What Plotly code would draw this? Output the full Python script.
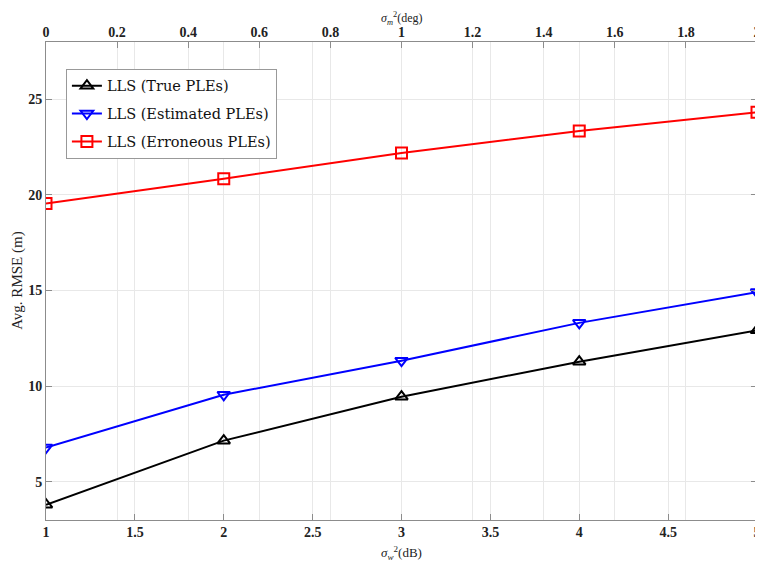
import plotly.graph_objects as go

sigma_w = [1, 2, 3, 4, 5]
true_ples = [3.8, 7.15, 9.45, 11.28, 12.92]
est_ples = [6.79, 9.55, 11.33, 13.31, 14.92]
err_ples = [19.55, 20.85, 22.19, 23.35, 24.33]

bottom_ticks = [1, 1.5, 2, 2.5, 3, 3.5, 4, 4.5, 5]
top_ticks = [0, 0.2, 0.4, 0.6, 0.8, 1, 1.2, 1.4, 1.6, 1.8, 2]
y_ticks = [5, 10, 15, 20, 25]

FONT = "Liberation Serif"
GRID = "#e8e8e8"
AX = "#8c8c8c"
TXT = "#222222"

fig = go.Figure()
series = [
    ("LLS (True PLEs)", true_ples, "#000000", "triangle-up-open"),
    ("LLS (Estimated PLEs)", est_ples, "#0000ff", "triangle-down-open"),
    ("LLS (Erroneous PLEs)", err_ples, "#ff0000", "square-open"),
]
for i, (name, vals, col, sym) in enumerate(series):
    fig.add_trace(go.Scatter(
        x=sigma_w, y=vals, name=name, mode="lines+markers", legendgroup=f"g{i}",
        line=dict(color=col, width=2),
        marker=dict(symbol=sym, size=11, color=col, line=dict(width=2, color=col)),
    ))
# empty trace so that the top axis is drawn
fig.add_trace(go.Scatter(x=[], y=[], xaxis="x2", yaxis="y", showlegend=False, hoverinfo="skip"))

tickfont = dict(family=FONT, size=14, color=TXT, weight="bold")

fig.update_layout(
    width=755, height=554,
    margin=dict(l=38, r=6, t=34, b=42),
    paper_bgcolor="white", plot_bgcolor="white",
    font=dict(family=FONT, color=TXT),
    xaxis=dict(
        range=[1, 5], tickvals=bottom_ticks, ticktext=[f"{v:g}" for v in bottom_ticks],
        showgrid=True, gridcolor=GRID, gridwidth=1,
        showline=True, linecolor=AX, linewidth=1,
        ticks="inside", ticklen=6, tickcolor=AX,
        tickfont=tickfont, automargin=False, ticklabeloverflow="allow",
        ticklabelstandoff=-1,
        zeroline=False,
    ),
    xaxis2=dict(
        range=[0, 2], tickvals=top_ticks, ticktext=[f"{v:g}" for v in top_ticks],
        overlaying="x", side="top", anchor="y",
        showgrid=True, gridcolor=GRID, gridwidth=1,
        showline=True, linecolor=AX, linewidth=1,
        ticks="inside", ticklen=6, tickcolor=AX,
        tickfont=tickfont, automargin=False, ticklabeloverflow="allow",
        ticklabelstandoff=-2,
        zeroline=False,
    ),
    yaxis=dict(
        range=[3, 28], tickvals=y_ticks,
        showgrid=True, gridcolor=GRID, gridwidth=1,
        showline=True, linecolor=AX, linewidth=1, mirror="ticks",
        ticks="inside", ticklen=6, tickcolor=AX,
        tickfont=tickfont, automargin=False,
        zeroline=False,
    ),
    legend=dict(
        x=0.028, y=0.944, xanchor="left", yanchor="top",
        bgcolor="white", bordercolor="#999999", borderwidth=1,
        font=dict(family="DejaVu Serif", size=14.5, color="#111111"),
        itemwidth=30, tracegroupgap=6,
    ),
    showlegend=True,
    annotations=[
        dict(text="<i>σ</i><sub><i>w</i></sub><sup>2</sup>(dB)", xref="paper", yref="paper",
             x=0.5, y=-0.046, xanchor="center", yanchor="top", showarrow=False,
             font=dict(family=FONT, size=13, color=TXT)),
        dict(text="<i>σ</i><sub><i>m</i></sub><sup>2</sup>(deg)", xref="paper", yref="paper",
             x=0.5, y=1.0711, xanchor="center", yanchor="top", showarrow=False,
             font=dict(family=FONT, size=12, color=TXT)),
        dict(text="Avg. RMSE (m)", xref="paper", yref="paper",
             x=-0.041, y=0.5, xanchor="center", yanchor="middle", showarrow=False,
             textangle=-90, font=dict(family=FONT, size=15, color=TXT)),
    ],
)

fig.write_html("out.html")
